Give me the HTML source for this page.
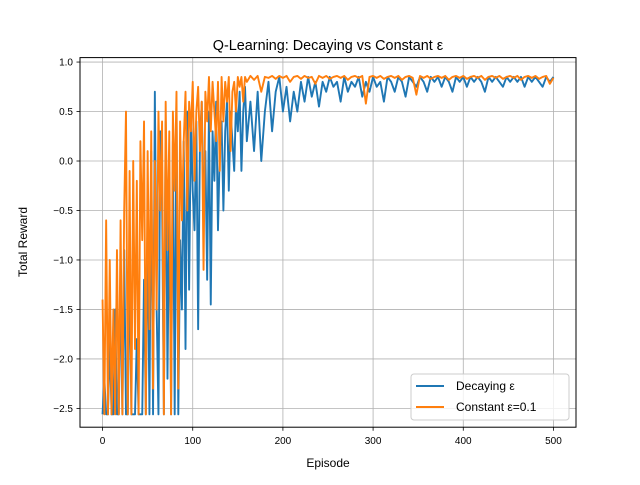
<!DOCTYPE html>
<html><head><meta charset="utf-8"><style>
body{margin:0;background:#fff;}
text{font-family:"Liberation Sans","DejaVu Sans",sans-serif;fill:#000;}
</style></head><body>
<svg id="chart" width="640" height="480" xmlns="http://www.w3.org/2000/svg">
<rect width="640" height="480" fill="#fff"/>
<g id="grid"></g>
<g id="series"></g>
<rect x="80" y="57.6" width="496" height="369.6" fill="none" stroke="#000" stroke-width="1"/>
<g id="ticks"></g>
<text x="328" y="50" font-size="14.4" text-anchor="middle">Q-Learning: Decaying vs Constant ε</text>
<text x="328" y="467" font-size="12" text-anchor="middle">Episode</text>
<text x="27" y="242" font-size="12" text-anchor="middle" transform="rotate(-90 27 242)">Total Reward</text>
<g>
<rect x="411" y="374" width="158" height="46" rx="3" fill="#fff" fill-opacity="0.8" stroke="#ccc"/>
<g><line x1="416" y1="386" x2="444" y2="386" stroke="#1f77b4" stroke-width="2"/><text x="456" y="390" font-size="12">Decaying ε</text></g>
<g><line x1="416" y1="407" x2="444" y2="407" stroke="#ff7f0e" stroke-width="2"/><text x="456" y="411" font-size="12">Constant ε=0.1</text></g>
</g>
</svg>
<script>
const xTicks=[0,100,200,300,400,500];
const yTicks=[1.0,0.5,0.0,-0.5,-1.0,-1.5,-2.0,-2.5];
const yTickLabels=["1.0","0.5","0.0","−0.5","−1.0","−1.5","−2.0","−2.5"];
const decaying=[-2.56,-2.2,-2.56,-2.56,-1.8,-2.56,-2.56,-1.5,-2.56,-2.56,-1.2,-2.56,-0.9,-2.56,-2.56,-1.0,-2.56,-2.56,-2.56,-1.8,-2.56,-2.56,-2.56,-1.2,-2.56,-0.5,-2.56,0.1,-2.56,0.7,-1.5,-2.56,0.3,-0.4,-2.56,0.4,-2.2,-0.3,-2.56,0.2,-2.56,0.6,-2.56,-0.8,-1.5,0.2,-1.9,0.5,-1.3,0.4,-0.3,-0.7,0.4,-1.7,0.2,0.6,-0.5,0.1,-1.2,0.5,-1.45,0.3,-0.2,0.6,-0.7,0.1,0.4,-0.5,0.3,0.6,-0.3,0.5,0.2,-0.1,0.6,0.3,0.7,-0.1,0.5,0.75,0.2,
0.6,0.1,0.7,0.0,0.5,0.8,0.3,0.7,0.85,0.5,0.75,0.4,0.7,0.5,0.8,0.6,0.85,0.65,0.8,0.55,0.8,0.7,0.85,0.75,0.8,0.6,0.85,0.7,0.8,0.75,0.85,0.65,0.8,0.7,0.85,0.75,0.8,0.6,0.85,0.8,0.7,0.85,0.8,0.65,0.85,0.8,0.75,0.85,0.8,0.7,0.85,0.8,0.85,0.75,0.85,0.8,0.7,0.85,0.8,0.85,0.75,0.85,0.8,0.85,0.8,0.7,0.85,0.8,0.85,0.8,0.75,0.85,0.8,0.85,0.8,0.85,0.75,0.85,0.8,0.85,0.8,0.75,0.85,0.8,0.85];
const constant=[-1.4,-2.56,-0.6,-2.56,-1.0,-2.56,-1.5,-2.56,-0.9,-2.56,-0.6,-2.56,-0.5,0.5,-2.56,-0.1,-2.56,0.0,-1.9,-0.2,-2.56,0.2,-0.8,0.4,-2.56,0.1,-1.7,0.3,-2.3,0.0,-1.5,0.5,-0.5,0.4,-2.56,0.6,-0.9,0.3,-2.56,0.5,-0.3,0.7,-2.3,0.4,-0.6,0.2,0.7,-0.5,0.6,0.3,0.8,-0.2,0.5,0.75,0.1,0.6,-1.1,0.7,0.4,0.85,0.3,0.8,0.5,0.2,0.8,-0.1,0.85,0.4,0.8,0.6,0.85,0.1,0.7,0.8,0.5,0.85,0.75,0.85,0.6,0.85,0.8,
0.86,0.82,0.86,0.7,0.85,0.84,0.86,0.83,0.86,0.84,0.86,0.8,0.85,0.86,0.83,0.86,0.84,0.85,0.78,0.86,0.84,0.86,0.83,0.85,0.86,0.84,0.86,0.82,0.85,0.86,0.84,0.86,0.58,0.85,0.86,0.84,0.86,0.83,0.85,0.86,0.84,0.86,0.82,0.85,0.86,0.84,0.67,0.86,0.84,0.86,0.83,0.85,0.86,0.84,0.86,0.82,0.85,0.86,0.84,0.86,0.83,0.85,0.86,0.84,0.86,0.82,0.85,0.86,0.84,0.86,0.83,0.85,0.86,0.84,0.86,0.82,0.85,0.86,0.84,0.86,0.83,0.85,0.86,0.78,0.84];
const episodes=[];
for(let e=0;e<=160;e+=2)episodes.push(e);
for(let e=164;e<=500;e+=4)episodes.push(e);

const NS="http://www.w3.org/2000/svg";
const X0=80,X1=576,Y0=57.6,Y1=427.2;
const xmin=-25,xmax=525,ymin=-2.69,ymax=1.045;
function sx(v){return X0+(v-xmin)/(xmax-xmin)*(X1-X0);}
function sy(v){return Y1-(v-ymin)/(ymax-ymin)*(Y1-Y0);}
const grid=document.getElementById('grid'),ticks=document.getElementById('ticks'),ser=document.getElementById('series');
function mk(t,a,p){const e=document.createElementNS(NS,t);for(const k in a)e.setAttribute(k,a[k]);p.appendChild(e);return e;}
xTicks.forEach(t=>{
 const g=mk('line',{x1:sx(t),x2:sx(t),y1:Y0,y2:Y1,stroke:'#b0b0b0','stroke-width':0.8},grid);
 
 
 mk('line',{x1:sx(t),x2:sx(t),y1:Y1,y2:Y1+3.5,stroke:'#000','stroke-width':0.8},ticks);
 const tx=mk('text',{x:sx(t),y:Y1+17,'font-size':10,'text-anchor':'middle'},ticks);
 tx.textContent=t;
 
 
});
yTicks.forEach((t,i)=>{
 const g=mk('line',{x1:X0,x2:X1,y1:sy(t),y2:sy(t),stroke:'#b0b0b0','stroke-width':0.8},grid);
 
 
 mk('line',{x1:X0-3.5,x2:X0,y1:sy(t),y2:sy(t),stroke:'#000','stroke-width':0.8},ticks);
 const tx=mk('text',{x:X0-7,y:sy(t)+3.5,'font-size':10,'text-anchor':'end'},ticks);
 tx.textContent=yTickLabels[i];
 
 
});
function line(vals,color,name){
 const d=vals.map((v,i)=>(i?'L':'M')+sx(episodes[i]).toFixed(2)+' '+sy(v).toFixed(2)).join('');
 const p=mk('path',{d:d,fill:'none',stroke:color,'stroke-width':1.9,'stroke-linejoin':'round'},ser);
 
 
}
line(decaying,'#1f77b4','decaying-epsilon-line');
line(constant,'#ff7f0e','constant-epsilon-line');
</script>
</body></html>
